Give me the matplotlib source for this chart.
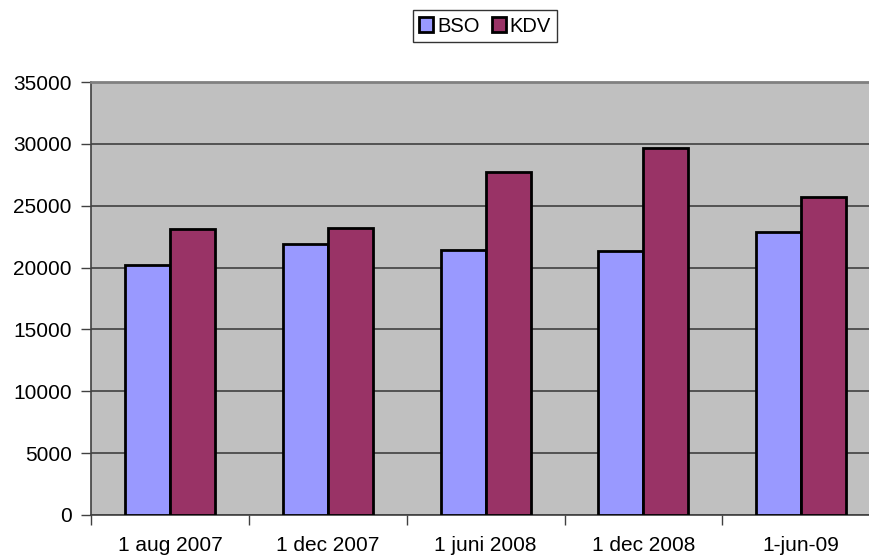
import numpy as np
import matplotlib.pyplot as plt

plt.rcParams['font.family'] = ['Liberation Sans', 'DejaVu Sans']

categories = ['1 aug 2007', '1 dec 2007', '1 juni 2008', '1 dec 2008', '1-jun-09']
bso = [20200, 21900, 21400, 21300, 22900]
kdv = [23100, 23200, 27700, 29700, 25700]

fig = plt.figure(figsize=(8.7, 5.56), dpi=100)
# plot area runs past the right edge of the picture, like the original
ax = fig.add_axes([91.3 / 870, 41 / 556, (880 - 91.3) / 870, (515 - 82) / 556])

x = np.arange(len(categories))
w = 0.285
ax.bar(x - w / 2, bso, w, color='#9999FF', edgecolor='black', linewidth=2, label='BSO', zorder=3)
ax.bar(x + w / 2, kdv, w, color='#993366', edgecolor='black', linewidth=2, label='KDV', zorder=3)

ax.set_facecolor('#C0C0C0')
ax.set_ylim(0, 35000)
ax.set_xlim(-0.5, len(categories) - 0.5)
ax.set_yticks(np.arange(0, 35001, 5000))
ax.yaxis.grid(True, color='#404040', linewidth=1.2, zorder=1)

ax.set_xticks(np.arange(-0.5, len(categories), 1.0))
ax.set_xticklabels([])
ax.set_xticks(x, minor=True)
ax.set_xticklabels(categories, minor=True)
ax.tick_params(axis='x', which='minor', length=0, pad=15, labelsize=15)
ax.tick_params(axis='x', which='major', length=7, width=1, color='#404040', direction='out')
ax.tick_params(axis='y', length=7, width=1, color='#404040', direction='out', pad=7, labelsize=15)

for s in ['left', 'bottom']:
    ax.spines[s].set_color('#404040')
    ax.spines[s].set_linewidth(1.2)
ax.spines['top'].set_color('#808080')
ax.spines['top'].set_linewidth(2)
ax.spines['right'].set_visible(False)

leg = fig.legend(loc='center', bbox_to_anchor=(485 / 870, 1 - 26 / 556), ncol=2,
                 fontsize=14.5, frameon=True, fancybox=False, edgecolor='black',
                 handlelength=0.7, handleheight=0.7, handletextpad=0.2,
                 columnspacing=0.6, borderpad=0.3, borderaxespad=0)
leg.get_frame().set_linewidth(1)

fig.savefig('out.png', dpi=100)
